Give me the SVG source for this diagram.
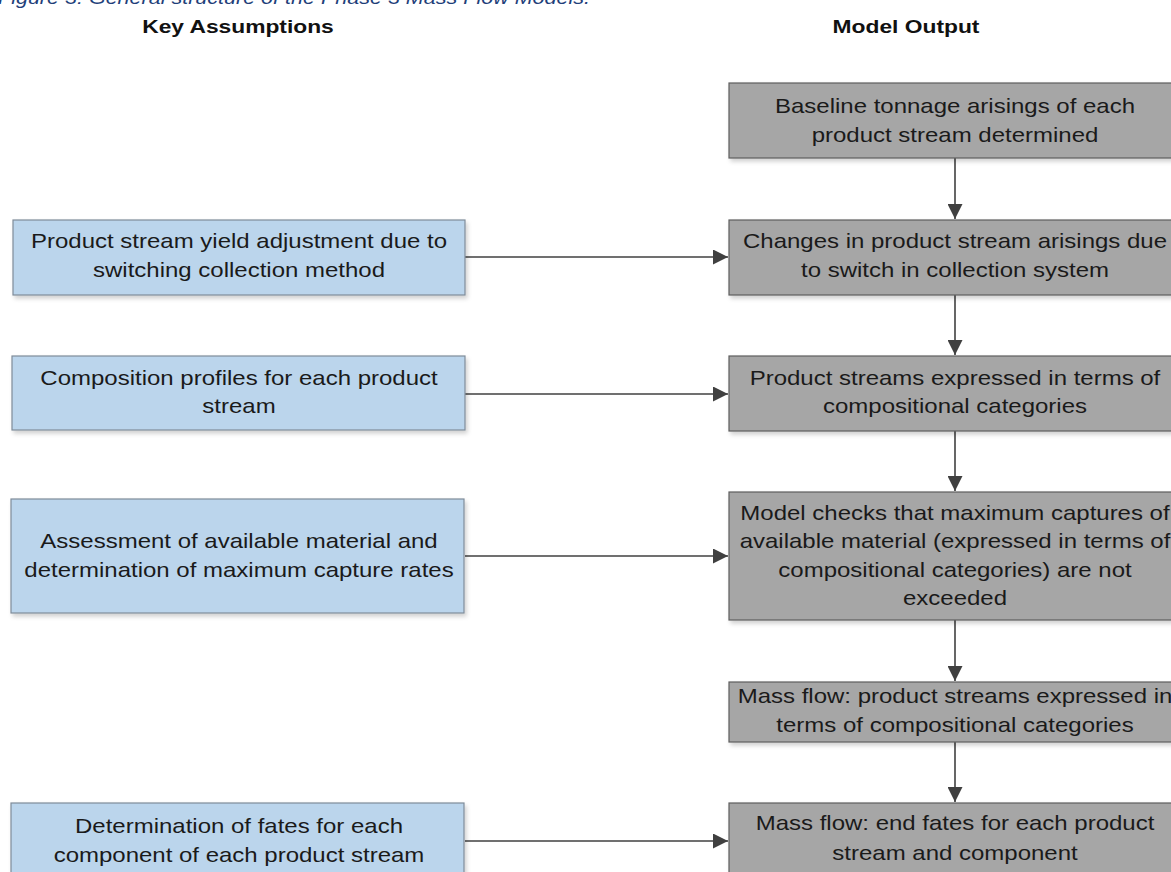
<svg xmlns="http://www.w3.org/2000/svg" width="1171" height="872" viewBox="0 0 1171 872">
<defs>
<style>
.cap{font-family:"Liberation Sans",Arial,sans-serif;font-style:italic;font-size:19px;fill:#1F3F7A}
.hdr{font-family:"Liberation Sans",Arial,sans-serif;font-weight:bold;font-size:19px;fill:#111;text-anchor:middle}
.t{font-family:"Liberation Sans",Arial,sans-serif;font-size:20px;fill:#1a1a1a;text-anchor:middle}
.blue{fill:#BBD5EC;stroke:#7F8C99;stroke-width:1.2}
.gray{fill:#A6A6A6;stroke:#5E5E5E;stroke-width:1.2}
.c{stroke:#404040;stroke-width:1.6;fill:none}
</style>
<filter id="sh" x="-5%" y="-10%" width="110%" height="130%">
<feDropShadow dx="2" dy="3" stdDeviation="2" flood-color="#000" flood-opacity="0.18"/>
</filter>
<marker id="ahv" viewBox="0 0 10 10" refX="10" refY="5" markerWidth="15" markerHeight="15" markerUnits="userSpaceOnUse" orient="auto">
<path d="M0,0 L10,5 L0,10 z" fill="#404040"/>
</marker>
</defs>
<rect width="1171" height="872" fill="#fff"/>
<text class="cap" x="-2" y="4" textLength="592" lengthAdjust="spacingAndGlyphs">Figure 3: General structure of the Phase 3 Mass Flow Models.</text>
<g transform="translate(238 0) scale(1.2 1)"><text class="hdr" x="0" y="33">Key Assumptions</text></g>
<g transform="translate(906 0) scale(1.2 1)"><text class="hdr" x="0" y="33">Model Output</text></g>

<g id="connectors">
<line class="c" x1="955" y1="158" x2="955" y2="219" marker-end="url(#ahv)"/>
<line class="c" x1="955" y1="295" x2="955" y2="355" marker-end="url(#ahv)"/>
<line class="c" x1="955" y1="431" x2="955" y2="491" marker-end="url(#ahv)"/>
<line class="c" x1="955" y1="620" x2="955" y2="681" marker-end="url(#ahv)"/>
<line class="c" x1="955" y1="742" x2="955" y2="802" marker-end="url(#ahv)"/>
<line class="c" x1="465" y1="257" x2="728" y2="257" marker-end="url(#ahv)"/>
<line class="c" x1="465" y1="394" x2="728" y2="394" marker-end="url(#ahv)"/>
<line class="c" x1="465" y1="556" x2="728" y2="556" marker-end="url(#ahv)"/>
<line class="c" x1="465" y1="841" x2="728" y2="841" marker-end="url(#ahv)"/>
</g>

<g id="a1"><rect class="blue" filter="url(#sh)" x="13" y="220" width="452" height="75"/>
<g transform="translate(239 0) scale(1.2 1)">
<text class="t" x="0" y="248">Product stream yield adjustment due to</text>
<text class="t" x="0" y="277">switching collection method</text></g></g>

<g id="a2"><rect class="blue" filter="url(#sh)" x="12" y="356" width="453" height="74"/>
<g transform="translate(239 0) scale(1.2 1)">
<text class="t" x="0" y="385">Composition profiles for each product</text>
<text class="t" x="0" y="413">stream</text></g></g>

<g id="a3"><rect class="blue" filter="url(#sh)" x="11" y="499" width="453" height="114"/>
<g transform="translate(239 0) scale(1.2 1)">
<text class="t" x="0" y="548">Assessment of available material and</text>
<text class="t" x="0" y="577">determination of maximum capture rates</text></g></g>

<g id="a4"><rect class="blue" filter="url(#sh)" x="11" y="803" width="453" height="76"/>
<g transform="translate(239 0) scale(1.2 1)">
<text class="t" x="0" y="833">Determination of fates for each</text>
<text class="t" x="0" y="862">component of each product stream</text></g></g>

<g id="m1"><rect class="gray" filter="url(#sh)" x="729" y="83" width="452" height="75"/>
<g transform="translate(955 0) scale(1.2 1)">
<text class="t" x="0" y="113">Baseline tonnage arisings of each</text>
<text class="t" x="0" y="142">product stream determined</text></g></g>

<g id="m2"><rect class="gray" filter="url(#sh)" x="729" y="220" width="452" height="75"/>
<g transform="translate(955 0) scale(1.2 1)">
<text class="t" x="0" y="248">Changes in product stream arisings due</text>
<text class="t" x="0" y="277">to switch in collection system</text></g></g>

<g id="m3"><rect class="gray" filter="url(#sh)" x="729" y="356" width="452" height="75"/>
<g transform="translate(955 0) scale(1.2 1)">
<text class="t" x="0" y="385">Product streams expressed in terms of</text>
<text class="t" x="0" y="413">compositional categories</text></g></g>

<g id="m4"><rect class="gray" filter="url(#sh)" x="729" y="492" width="452" height="128"/>
<g transform="translate(955 0) scale(1.2 1)">
<text class="t" x="0" y="520">Model checks that maximum captures of</text>
<text class="t" x="0" y="548">available material (expressed in terms of</text>
<text class="t" x="0" y="577">compositional categories) are not</text>
<text class="t" x="0" y="605">exceeded</text></g></g>

<g id="m5"><rect class="gray" filter="url(#sh)" x="729" y="682" width="452" height="60"/>
<g transform="translate(955 0) scale(1.2 1)">
<text class="t" x="0" y="703">Mass flow: product streams expressed in</text>
<text class="t" x="0" y="732">terms of compositional categories</text></g></g>

<g id="m6"><rect class="gray" filter="url(#sh)" x="729" y="803" width="452" height="76"/>
<g transform="translate(955 0) scale(1.2 1)">
<text class="t" x="0" y="830">Mass flow: end fates for each product</text>
<text class="t" x="0" y="860">stream and component</text></g></g>
</svg>
